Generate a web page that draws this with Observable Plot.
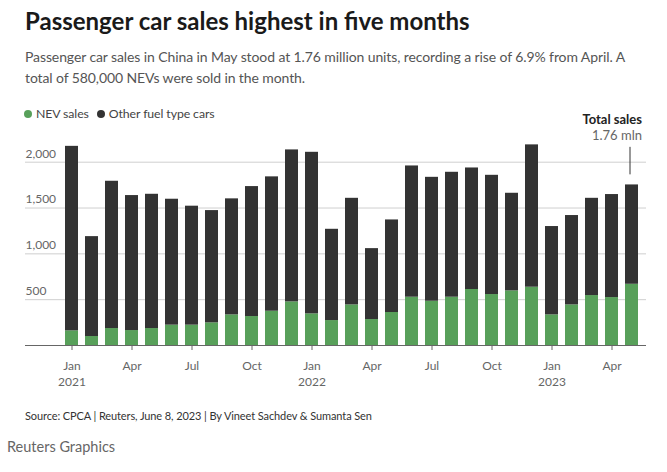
<!DOCTYPE html>
<html>
<head>
<meta charset="utf-8">
<script src="https://cdn.jsdelivr.net/npm/d3@7"></script>
<script src="https://cdn.jsdelivr.net/npm/@observablehq/plot@0.6"></script>
<style>
  body { margin: 0; background: #fff; font-family: Lato, "Noto Sans", sans-serif; width: 667px; height: 472px; position: relative; overflow: hidden; }
  .abs { position: absolute; }
  #title { left: 25px; top: 6px; font-size: 24px; font-weight: 700; color: #1a1a1a; white-space: nowrap; }
  #sub { left: 25px; top: 47px; width: 625px; font-size: 14px; letter-spacing: -0.1px; line-height: 20.5px; color: #555; }
  #legend { left: 24px; top: 106px; font-size: 12.3px; letter-spacing: -0.1px; color: #444; display: flex; align-items: center; }
  #legend .dot { display: inline-block; width: 8px; height: 8px; border-radius: 50%; margin-right: 4px; }
  #legend .item { display: flex; align-items: center; margin-right: 8px; }
  #chart { left: 0; top: 100px; }
  #source { left: 25px; top: 409px; font-size: 11px; letter-spacing: -0.1px; color: #333; }
  #brand { left: 7px; top: 438px; font-size: 14.5px; color: #666; }
</style>
</head>
<body>
<div id="title" class="abs">Passenger car sales highest in five months</div>
<div id="sub" class="abs">Passenger car sales in China in May stood at 1.76 million units, recording a rise of 6.9% from April. A total of 580,000 NEVs were sold in the month.</div>
<div id="legend" class="abs"></div>
<div id="chart" class="abs"></div>
<div id="source" class="abs">Source: CPCA | Reuters, June 8, 2023 | By Vineet Sachdev &amp; Sumanta Sen</div>
<div id="brand" class="abs">Reuters Graphics</div>
<script>
// Months (Jan 2021 – May 2023)
const months = [
  "2021-01","2021-02","2021-03","2021-04","2021-05","2021-06","2021-07","2021-08","2021-09","2021-10","2021-11","2021-12",
  "2022-01","2022-02","2022-03","2022-04","2022-05","2022-06","2022-07","2022-08","2022-09","2022-10","2022-11","2022-12",
  "2023-01","2023-02","2023-03","2023-04","2023-05"
];
// NEV sales (thousand units)
const nevSales = [
  160, 98, 185, 163, 185, 222, 222, 247, 334, 316, 374, 476,
  345, 272, 443, 283, 360, 527, 483, 527, 611, 556, 596, 636,
  334, 443, 545, 523, 668
];
// Other fuel type cars (thousand units)
const otherSales = [
  2013, 1090, 1607, 1473, 1465, 1374, 1298, 1225, 1266, 1418, 1466, 1658,
  1763, 996, 1163, 774, 1010, 1432, 1352, 1363, 1326, 1301, 1065, 1553,
  964, 975, 1061, 1124, 1084
];
const seriesNames = ["NEV sales", "Other fuel type cars"];
const seriesColors = ["#58a05a", "#333333"];
const yTicks = [500, 1000, 1500, 2000];
const monthNames = ["Jan","Feb","Mar","Apr","May","Jun","Jul","Aug","Sep","Oct","Nov","Dec"];
const annotationTitle = "Total sales";
const annotationValue = "1.76 mln";

// legend
const legend = document.getElementById("legend");
seriesNames.forEach((n, i) => {
  const it = document.createElement("span");
  it.className = "item";
  it.innerHTML = `<span class="dot" style="background:${seriesColors[i]}"></span>${n}`;
  legend.appendChild(it);
});

const data = [];
months.forEach((m, i) => {
  data.push({month: m, type: seriesNames[0], value: nevSales[i]});
  data.push({month: m, type: seriesNames[1], value: otherSales[i]});
});
const last = {month: months[months.length - 1], total: nevSales[nevSales.length - 1] + otherSales[otherSales.length - 1]};

const fmtTick = (m) => {
  const [y, mo] = m.split("-").map(Number);
  const name = monthNames[mo - 1];
  return mo === 1 ? `${name}\n${y}` : name;
};

const chart = Plot.plot({
  width: 667,
  height: 295,
  marginLeft: 25,
  marginRight: 21,
  marginTop: 0,
  marginBottom: 50,
  style: {fontFamily: "Lato, 'Noto Sans', sans-serif", background: "transparent"},
  x: {domain: months, type: "band", padding: 0.36, range: [54.2, 649.3]},
  y: {domain: [0, 2000], range: [245, 61.7]},
  color: {domain: seriesNames, range: seriesColors},
  marks: [
    Plot.gridY(yTicks, {stroke: "#cfcfcf", strokeOpacity: 1}),
    Plot.axisY(yTicks, {anchor: "left", tickSize: 0, tickPadding: 0, textAnchor: "start", dy: -8.5, tickFormat: d3.format(","), fontSize: 12, fill: "#666", label: null}),
    Plot.barY(data, {x: "month", y: "value", fill: "type", order: seriesNames}),
    Plot.ruleY([0], {stroke: "#666", strokeWidth: 1.2}),
    Plot.axisX(months.filter(m => (+m.split("-")[1] - 1) % 3 === 0), {tickSize: 5, tickPadding: 9, tickFormat: fmtTick, fontSize: 12, fill: "#666", stroke: "#666", lineHeight: 1.28, label: null}),
    Plot.ruleX([last], {x: "month", y1: d => d.total + 110, y2: d => d.total + 410, stroke: "#333", dx: -2}),
    Plot.text([last], {x: "month", y: "total", text: () => annotationValue, dy: -45, dx: 10, textAnchor: "end", lineAnchor: "bottom", fontSize: 13, fill: "#666"}),
    Plot.text([last], {x: "month", y: "total", text: () => annotationTitle, dy: -61, dx: 10, textAnchor: "end", lineAnchor: "bottom", fontSize: 13, fontWeight: "bold", fill: "#222"})
  ]
});
document.getElementById("chart").appendChild(chart);
</script>
</body>
</html>
